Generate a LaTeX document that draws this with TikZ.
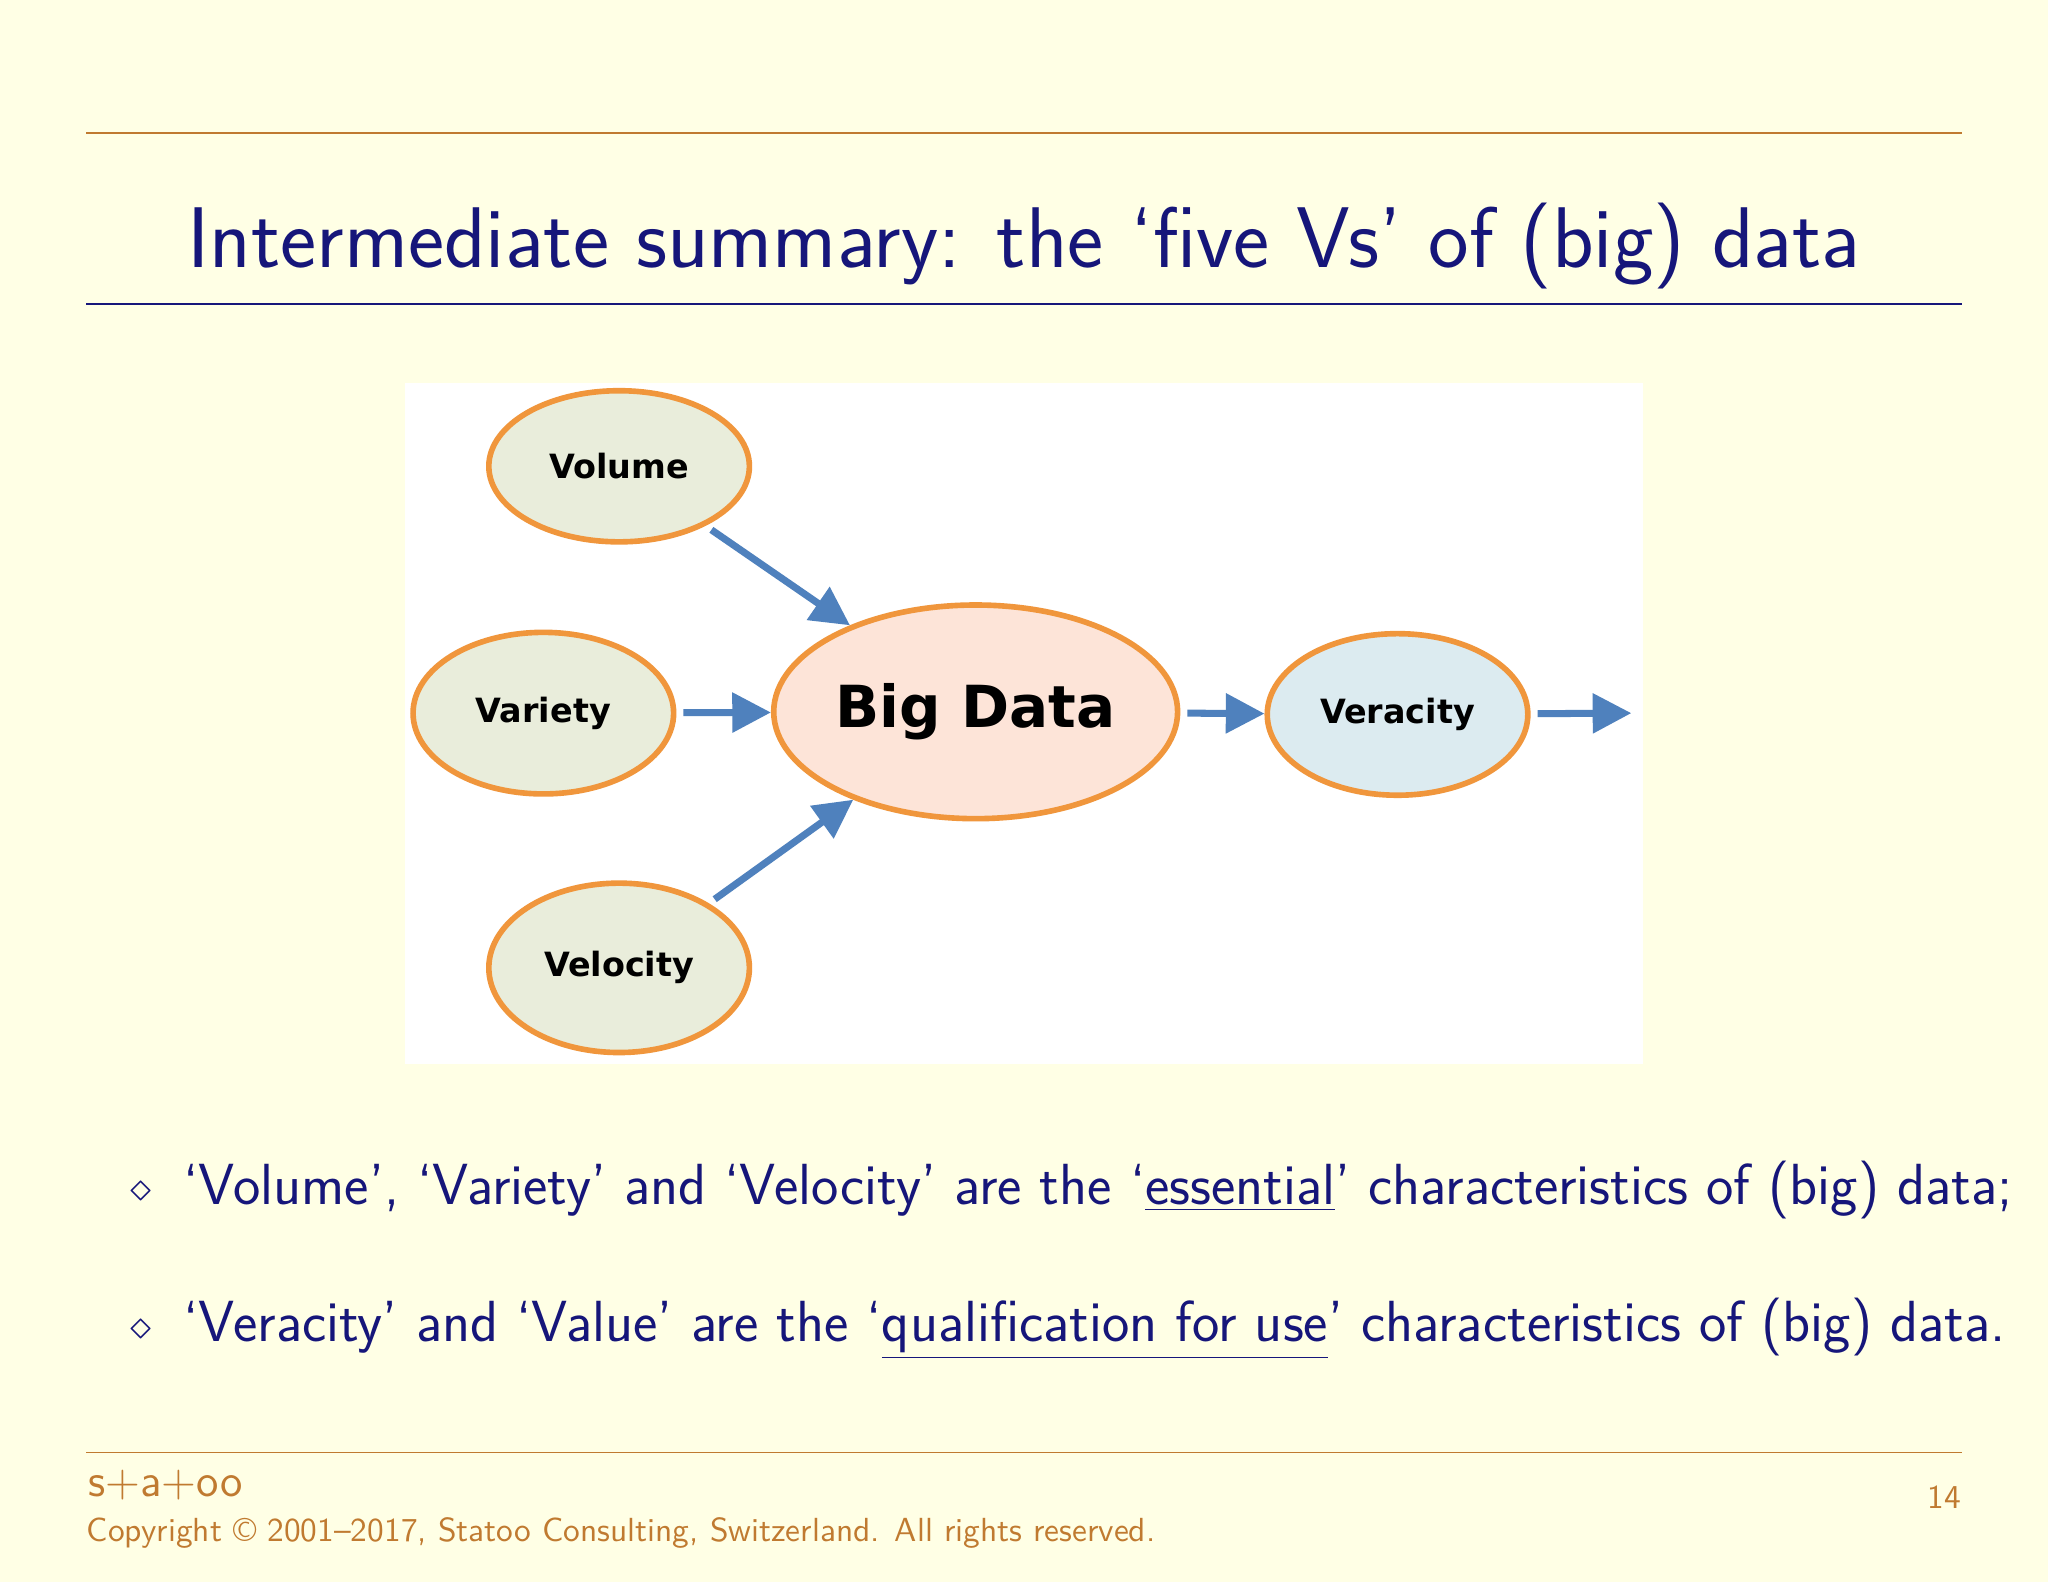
\documentclass[tikz,border=0pt]{standalone}
\usepackage{fontspec}
\newfontfamily\vfont{DejaVu Sans}[BoldFont={DejaVu Sans Bold}]
\usetikzlibrary{shapes.geometric,arrows.meta}
\definecolor{bg}{HTML}{FFFFE5}
\definecolor{brn}{HTML}{C07A30}
\definecolor{dblue}{HTML}{16167A}
\definecolor{orng}{HTML}{F0963C}
\definecolor{arrb}{HTML}{4F81BD}
\definecolor{fgreen}{HTML}{E9EDDB}
\definecolor{fpink}{HTML}{FDE4D8}
\definecolor{fblue}{HTML}{DCEBF0}
\begin{document}
\begin{tikzpicture}[x=0.01306cm,y=-0.01306cm,
  vell/.style={ellipse,draw=orng,line width=1.6pt,inner sep=0pt,font=\vfont\bfseries\fontsize{9.5}{11}\selectfont},
  varr/.style={draw=arrb,line width=2pt,-{Triangle[length=11pt,width=11pt]}},
  txt/.style={inner sep=0pt,anchor=base west,text=dblue,font=\sffamily\fontsize{16.5}{20}\selectfont}]
\fill[bg] (0,0) rectangle (1568,1211);
\useasboundingbox (0,0) rectangle (1568,1211);
\draw[brn,line width=0.5pt] (66,102) -- (1502,102);
\node[text=dblue,font=\sffamily\fontsize{24.5}{28}\selectfont,inner sep=0pt] (title) at (784,188) {Intermediate summary: the `five Vs' of (big) data};
\draw[dblue,line width=0.6pt] (66,233) -- (1502,233);
\fill[white] (310,293) rectangle (1258,815);
\node[vell,fill=fgreen,minimum width=200\pgflinewidth*0+200*0.3707pt,minimum height=116*0.3707pt] (vol) at (474,357) {Volume};
\node[vell,fill=fgreen,minimum width=200*0.3707pt,minimum height=124*0.3707pt] (var) at (416,546) {Variety};
\node[vell,fill=fgreen,minimum width=200*0.3707pt,minimum height=130*0.3707pt] (vel) at (474,741) {Velocity};
\node[vell,fill=fpink,minimum width=310*0.3707pt,minimum height=164*0.3707pt,font=\vfont\bfseries\fontsize{16.5}{20}\selectfont] (big) at (747,545) {Big Data};
\node[vell,fill=fblue,minimum width=200*0.3707pt,minimum height=124*0.3707pt] (ver) at (1070,547) {Veracity};
\coordinate (out) at (1249,546);
\draw[varr,shorten <=2pt] (vol) -- (big);
\draw[varr,shorten <=2pt] (var) -- (big);
\draw[varr,shorten <=2pt] (vel) -- (big);
\draw[varr,shorten <=2pt] (big) -- (ver);
\draw[varr,shorten <=2pt] (ver) -- (out);
\node[text=dblue,font=\fontsize{12}{14}\selectfont,inner sep=0pt] (d1) at (108,913) {$\diamond$};
\node[text=dblue,font=\fontsize{12}{14}\selectfont,inner sep=0pt] (d2) at (108,1018) {$\diamond$};
\node[txt] (l1) at (140,922) {`Volume', `Variety' and `Velocity' are the `\underline{essential}' characteristics of (big) data;};
\node[txt] (l2) at (140,1027) {`Veracity' and `Value' are the `\underline{qualification for use}' characteristics of (big) data.};
\draw[brn,line width=0.5pt] (66,1112) -- (1502,1112);
\node[text=brn,font=\sffamily\fontsize{13}{15}\selectfont,inner sep=0pt,anchor=base west] (logo) at (67,1146) {s+a+oo};
\node[text=brn,font=\sffamily\fontsize{9.5}{11}\selectfont,inner sep=0pt,anchor=base west] (copy) at (66,1180) {Copyright \textcopyright\ 2001--2017, Statoo Consulting, Switzerland. All rights reserved.};
\node[text=brn,font=\sffamily\fontsize{9.5}{11}\selectfont,inner sep=0pt,anchor=base east] (pg) at (1502,1155) {14};
\end{tikzpicture}
\end{document}
